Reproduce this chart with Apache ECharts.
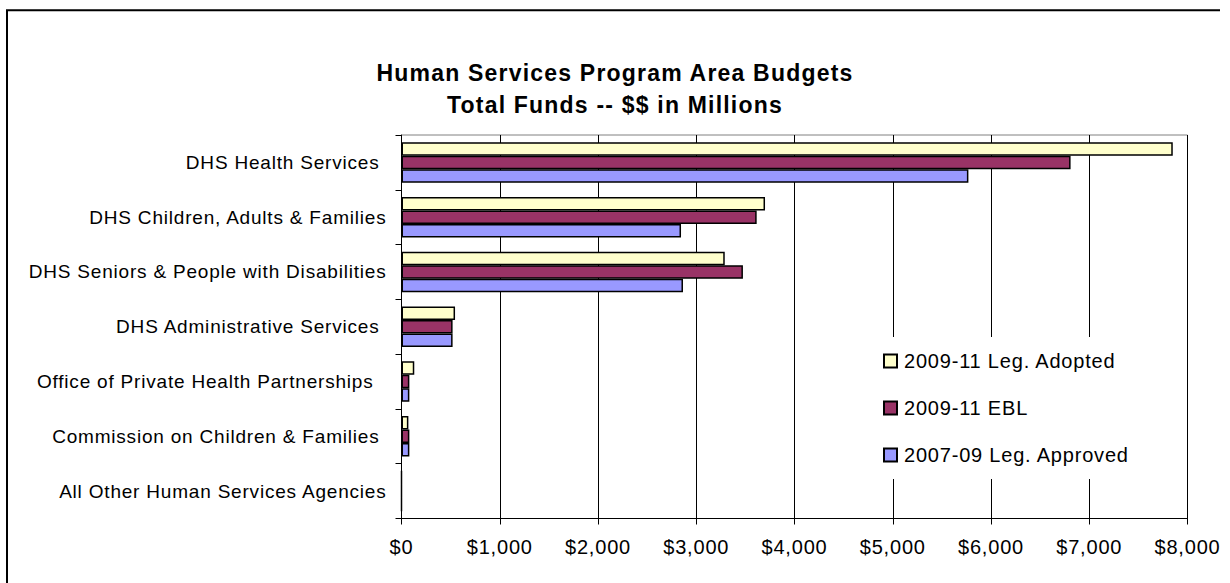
<!DOCTYPE html>
<html><head><meta charset="utf-8">
<script src="https://cdn.jsdelivr.net/npm/echarts@6/dist/echarts.min.js"></script>
<style>
html,body{margin:0;padding:0;background:#fff;}
#chart{width:1230px;height:583px;}
#chart text{letter-spacing:0.8px;}
#chart text[style*="bold"]{letter-spacing:1.2px;}
</style></head><body><div id="chart"></div>
<script>
const categories = [
  'DHS Health Services ',
  'DHS Children, Adults & Families',
  'DHS Seniors & People with Disabilities',
  'DHS Administrative Services ',
  'Office of Private Health Partnerships  ',
  'Commission on Children & Families ',
  'All Other Human Services Agencies'
];
const seriesNames = ['2009-11 Leg. Adopted', '2009-11 EBL', '2007-09 Leg. Approved'];
const adopted  = [7850, 3700, 3290, 545, 130, 70, 0];
const ebl      = [6810, 3615, 3475, 520, 80, 80, 0];
const approved = [5770, 2845, 2865, 520, 80, 80, 0];
const xTickLabels = ['$0', '$1,000', '$2,000', '$3,000', '$4,000', '$5,000', '$6,000', '$7,000', '$8,000'];
const titleLines = ['Human Services Program Area Budgets', 'Total Funds -- $$ in Millions'];

const FONT = "'Liberation Sans', Arial, sans-serif";
const colors = ['#FFFFCC', '#993366', '#9999FF'];
const seriesData = [adopted, ebl, approved];

const chart = echarts.init(document.getElementById('chart'), null, {renderer: 'svg'});
chart.setOption({
  backgroundColor: '#fff',
  animation: false,
  title: {
    text: titleLines.join('\n'),
    left: 'center',
    top: 57,
    padding: 0,
    textStyle: {fontFamily: FONT, fontSize: 23, fontWeight: 'bold', color: '#000', lineHeight: 32}
  },
  graphic: [{
    type: 'polyline', silent: true, z: 100,
    shape: {points: [[7, 600], [7, 10.3], [1220, 10.3]]},
    style: {stroke: '#000', lineWidth: 2, fill: null}
  }],
  legend: {
    orient: 'vertical',
    left: 863, top: 337,
    padding: [14, 20, 14, 20],
    backgroundColor: '#fff',
    itemWidth: 13, itemHeight: 13, itemGap: 27,
    icon: 'rect',
    data: seriesNames,
    textStyle: {fontFamily: FONT, fontSize: 20, color: '#000', padding: [0, 0, 0, 2]}
  },
  grid: {left: 401.5, top: 135, width: 786, height: 383.5, show: true, borderColor: '#808080', borderWidth: 1, backgroundColor: 'transparent', containLabel: false, outerBoundsMode: 'none'},
  xAxis: {
    type: 'value', min: 0, max: 8000, interval: 1000,
    axisLine: {show: true, lineStyle: {color: '#000', width: 1}},
    axisTick: {show: true, length: 6, lineStyle: {color: '#000'}},
    splitLine: {show: true, lineStyle: {color: '#000', width: 1}},
    axisLabel: {
      fontFamily: FONT, fontSize: 20, color: '#000', margin: 18,
      formatter: v => xTickLabels[Math.round(v / 1000)]
    }
  },
  yAxis: {
    type: 'category', data: categories, inverse: true,
    axisLine: {show: true, lineStyle: {color: '#000', width: 1}},
    axisTick: {show: true, length: 6, lineStyle: {color: '#000'}},
    splitLine: {show: false},
    axisLabel: {
      fontFamily: FONT, fontSize: 19, color: '#000', margin: 15,
      formatter: v => {
        const t = v.replace(/\s+$/, '');
        const n = v.length - t.length;
        return '{p' + n + '|' + t + '}';
      },
      rich: {
        p0: {align: 'right', padding: [0, 0, 0, 0], fontFamily: FONT, fontSize: 19, color: '#000'},
        p1: {align: 'right', padding: [0, 7, 0, 0], fontFamily: FONT, fontSize: 19, color: '#000'},
        p2: {align: 'right', padding: [0, 13, 0, 0], fontFamily: FONT, fontSize: 19, color: '#000'}
      }
    }
  },
  series: seriesNames.map((name, i) => ({
    name: name,
    type: 'bar',
    data: seriesData[i],
    barWidth: 13.5,
    barGap: '0%',
    itemStyle: {color: colors[i], borderColor: '#000', borderWidth: 1.5}
  }))
});
</script></body></html>
